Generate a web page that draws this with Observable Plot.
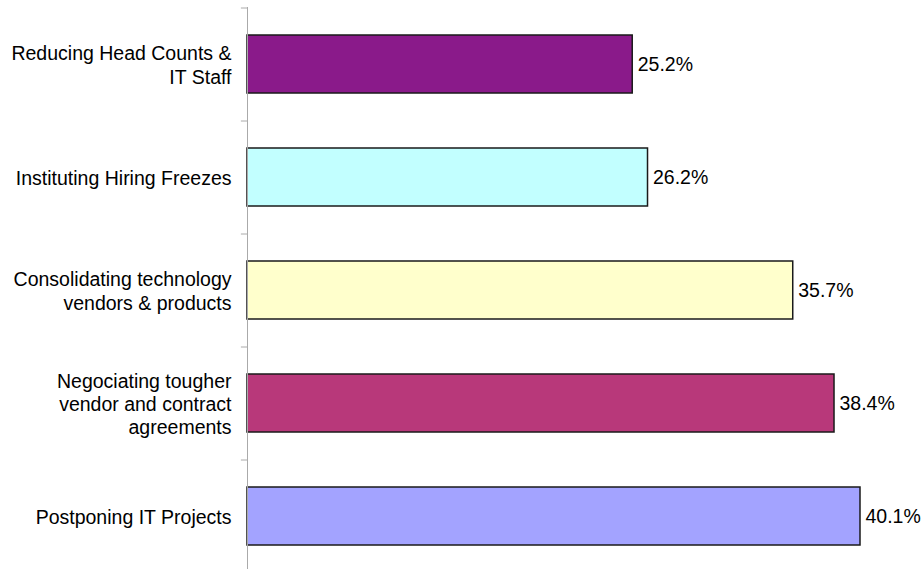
<!DOCTYPE html>
<html>
<head>
<meta charset="utf-8">
<script src="https://cdn.jsdelivr.net/npm/d3@7"></script>
<script src="https://cdn.jsdelivr.net/npm/@observablehq/plot@0.6"></script>
<style>
  html, body { margin: 0; padding: 0; background: #fff; }
  #chart svg { display: block; }
</style>
</head>
<body>
<div id="chart"></div>
<script>
const categories = [
  "Reducing Head Counts &\nIT Staff",
  "Instituting Hiring Freezes",
  "Consolidating technology\nvendors & products",
  "Negociating tougher\nvendor and contract\nagreements",
  "Postponing IT Projects"
];
const values = [25.2, 26.2, 35.7, 38.4, 40.1];
const valueLabels = ["25.2%", "26.2%", "35.7%", "38.4%", "40.1%"];
const colors = ["#8a1a8a", "#c2ffff", "#ffffcc", "#b8387a", "#a3a3ff"];

const data = categories.map((c, i) => ({category: c, value: values[i], label: valueLabels[i], color: colors[i]}));

const W = 923, H = 569;
const step = (572 - 7) / categories.length;

const chart = Plot.plot({
  width: W,
  height: H,
  marginLeft: 247,
  marginRight: 63,
  marginTop: 7,
  marginBottom: 0,
  style: {fontFamily: "'Liberation Sans', Arial, sans-serif", fontSize: "19.5px", color: "#000", background: "#fff"},
  x: {domain: [0, 40.1], axis: null},
  y: {domain: categories, range: [7, 572], paddingInner: 0.49, paddingOuter: 0.245, axis: null},
  marks: [
    Plot.barX(data, {y: "category", x: "value", fill: "color", stroke: "#1a1a1a", strokeWidth: 1.5}),
    Plot.ruleX([0], {stroke: "#aaa", strokeWidth: 1}),
    Plot.ruleY(data, {y: "category", x1: -0.4, x2: 0, dy: -step / 2, stroke: "#aaa", strokeWidth: 1}),
    Plot.text(data, {y: "category", x: 0, text: "category", textAnchor: "end", dx: -16, lineHeight: 1.2, fontSize: 19.5, fill: "#000"}),
    Plot.text(data, {y: "category", x: "value", text: "label", textAnchor: "start", dx: 5, fontSize: 19.5, fill: "#000"})
  ]
});
document.getElementById("chart").appendChild(chart);
</script>
</body>
</html>
